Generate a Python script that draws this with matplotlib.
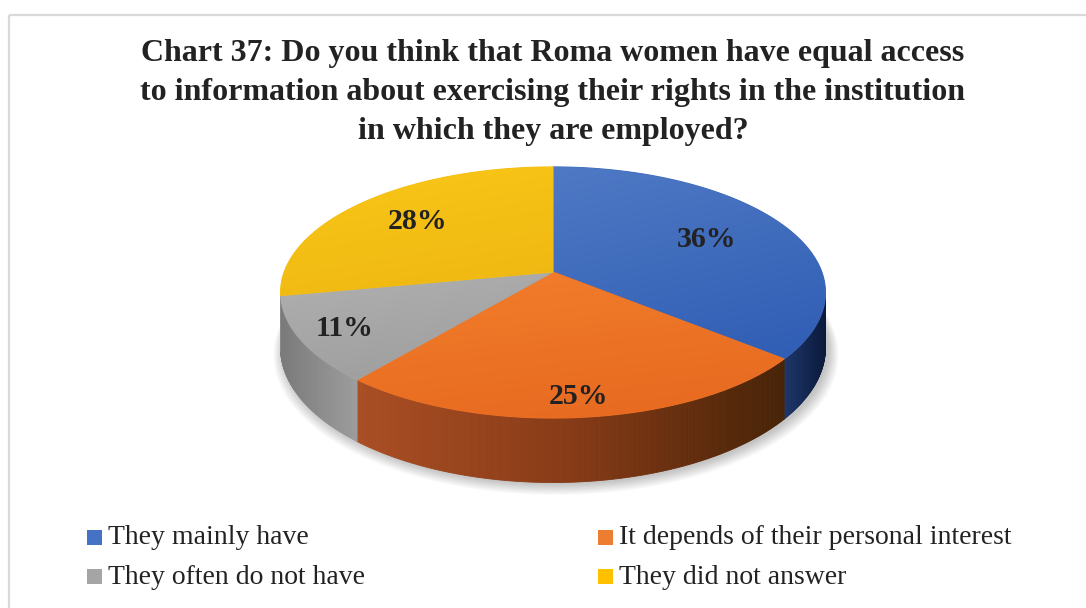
import numpy as np
import matplotlib
matplotlib.use("Agg")
import matplotlib.pyplot as plt
from matplotlib.patches import Polygon, Rectangle
from matplotlib.colors import to_rgb

# ---- data -------------------------------------------------------------
title_lines = [
    "Chart 37: Do you think that Roma women have equal access",
    "to information about exercising their rights in the institution",
    "in which they are employed?",
]
categories = [
    "They mainly have",
    "It depends of their personal interest",
    "They often do not have",
    "They did not answer",
]
shares = [36, 25, 11, 28]
pct_labels = ["36%", "25%", "11%", "28%"]

# ---- styling ----------------------------------------------------------
legend_colors = ["#4472c4", "#ed7d31", "#a5a5a5", "#ffc000"]
top_stops = [("#4f79c4", "#2f5db4"), ("#f27e2c", "#e6681f"),
             ("#b0b0b0", "#9c9c9c"), ("#fac717", "#eeb713")]
wall_stops = [["#1c3569", "#0b1a3c"], ["#aa4e24", "#873b17", "#472307"],
              ["#7a7a7a", "#9d9d9d"], ["#8a8a8a", "#8a8a8a"]]
label_radius = [0.66, 0.88, 0.84, 0.70]
TEXT = "#222222"

# projection of the tilted disc (perspective view)
CX, CY = 553.0, 272.0
A, B, K, DEPTH = 268.8, 122.2, 0.163, 54.0


def project(theta_deg, r=1.0, z=0.0):
    t = np.radians(theta_deg)
    u, v = r * np.cos(t), r * np.sin(t)
    w = 1 + K * v
    return CX + A * u / w, CY - (B * v + DEPTH * z) / w


def lerp_stops(stops, f):
    cols = [np.array(to_rgb(c)) for c in stops]
    f = float(np.clip(f, 0, 1)) * (len(cols) - 1)
    i = min(int(f), len(cols) - 2)
    return cols[i] * (1 - (f - i)) + cols[i + 1] * (f - i)


def gradient_poly(ax, verts, stops, angle, z):
    verts = np.asarray(verts)
    mid = lerp_stops(stops, 0.5)
    base = Polygon(verts, closed=True, facecolor=mid, edgecolor=mid,
                   linewidth=0.8, zorder=z)
    ax.add_patch(base)
    x0, y0 = verts.min(0)
    x1, y1 = verts.max(0)
    n = 200
    xx, yy = np.meshgrid(np.linspace(0, 1, n), np.linspace(0, 1, n))
    a = np.radians(angle)
    t = xx * np.cos(a) + yy * np.sin(a)
    t = (t - t.min()) / (t.max() - t.min())
    c0, c1 = (np.array(to_rgb(c)) for c in stops)
    img = (1 - t)[..., None] * c0 + t[..., None] * c1
    im = ax.imshow(img, extent=(x0, x1, y1, y0), origin="upper",
                   interpolation="bilinear", aspect="auto", zorder=z + 0.1)
    im.set_clip_path(base)


fig = plt.figure(figsize=(10.86, 6.08), dpi=100)
ax = fig.add_axes([0, 0, 1, 1])
ax.set_xlim(0, 1086)
ax.set_ylim(608, 0)
ax.axis("off")

# chart frame
ax.plot([9, 9], [15, 608], color="#d9d9d9", lw=1.6, solid_capstyle="butt")
ax.plot([9, 1086], [15, 15], color="#d9d9d9", lw=1.6, solid_capstyle="butt")

# slice angles, clockwise from 12 o'clock
total = float(sum(shares))
bounds = 90 - 360 * np.concatenate([[0], np.cumsum(shares)]) / total
silh = np.degrees(np.arcsin(K))
vis_lo, vis_hi = -180 + silh, -silh

# soft shadow beneath the disc
ring = np.linspace(0, 360, 361)
for i in range(10):
    sx, sy = project(ring, 1.0 + 0.004 * i, -1.0)
    ax.add_patch(Polygon(np.column_stack([sx + 3, sy + 2 + 0.4 * i]),
                         closed=True, facecolor="black", edgecolor="none",
                         alpha=0.022, zorder=1))

# outer wall of the front half
for k in range(len(shares)):
    hi, lo = bounds[k], bounds[k + 1]
    for shift in (0, -360, 360):
        a0, a1 = max(lo + shift, vis_lo), min(hi + shift, vis_hi)
        if a1 <= a0:
            continue
        ts = np.linspace(a1, a0, max(int((a1 - a0) * 2), 2) + 1)
        xt, yt = project(ts, 1.0, 0.0)
        xb, yb = project(ts, 1.0, -1.0)
        xmin, xmax = xt.min(), xt.max()
        for j in range(len(ts) - 1):
            quad = [(xt[j], yt[j]), (xt[j + 1], yt[j + 1]),
                    (xb[j + 1], yb[j + 1]), (xb[j], yb[j])]
            xm = 0.5 * (xt[j] + xt[j + 1])
            f = (xm - xmin) / (xmax - xmin) if xmax > xmin else 0.5
            col = lerp_stops(wall_stops[k], f)
            ax.add_patch(Polygon(quad, closed=True, facecolor=col,
                                 edgecolor=col, linewidth=0.6, zorder=2))

# top surface
for k in range(len(shares)):
    hi, lo = bounds[k], bounds[k + 1]
    ts = np.linspace(hi, lo, int(abs(hi - lo) * 2) + 2)
    xs, ys = project(ts)
    verts = np.vstack([[project(0, 0.0)], np.column_stack([xs, ys])])
    gradient_poly(ax, verts, top_stops[k], 70, 3 + k * 0.2)

# percentage labels
for k in range(len(shares)):
    mid = 0.5 * (bounds[k] + bounds[k + 1])
    lx, ly = project(mid, label_radius[k])
    ax.text(lx, ly, pct_labels[k], ha="center", va="center", fontsize=21.5,
            fontweight="bold", family="Liberation Serif", color=TEXT, zorder=6)

# title
for i, line in enumerate(title_lines):
    ax.text(553, 53 + 39.5 * i, line, ha="center", va="center", fontsize=23,
            fontweight="bold", family="Liberation Serif", color=TEXT)

# legend
leg_x = [87, 598]
leg_y = [537, 576]
for k, name in enumerate(categories):
    x, y = leg_x[k % 2], leg_y[k // 2]
    ax.add_patch(Rectangle((x, y - 7.5), 15, 15, facecolor=legend_colors[k],
                           edgecolor="none"))
    ax.text(x + 21, y + 1, name, ha="left", va="center", fontsize=20,
            family="Liberation Serif", color=TEXT)

fig.savefig("out.png", dpi=100, facecolor="white")
